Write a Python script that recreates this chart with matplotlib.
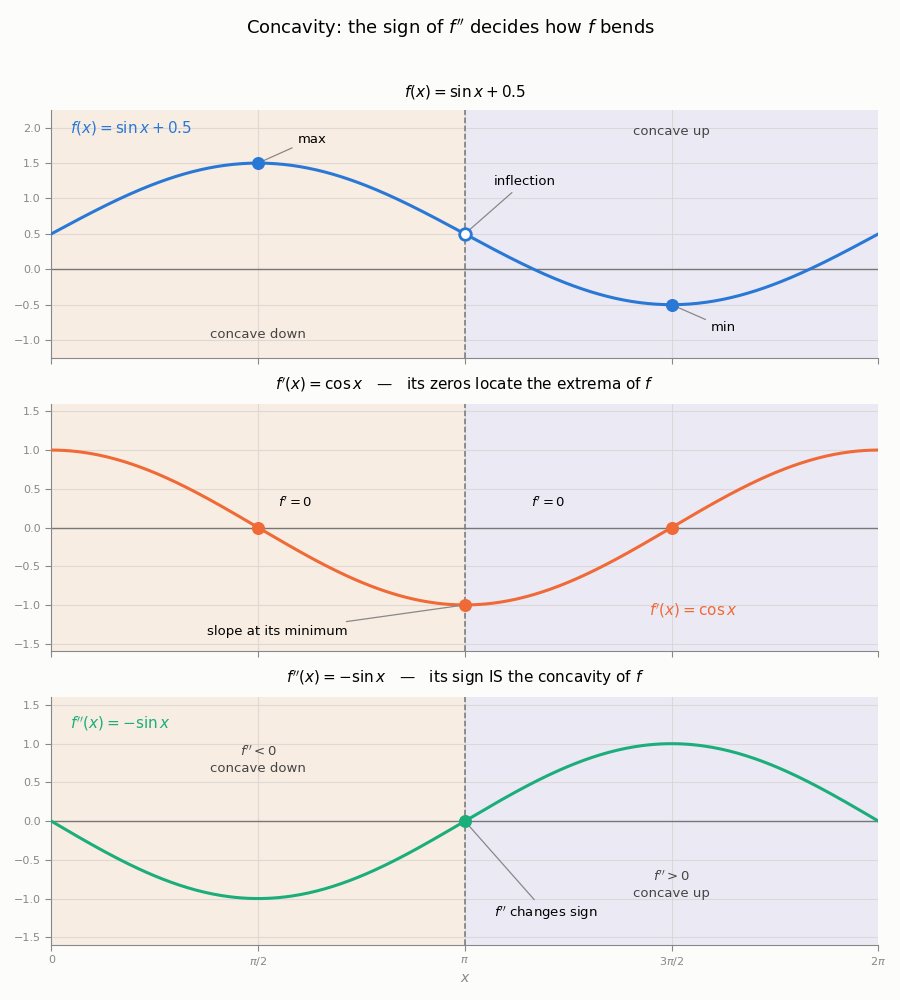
import numpy as np
import matplotlib
matplotlib.use("Agg")
import matplotlib.pyplot as plt

# data
x = np.linspace(0, 2 * np.pi, 400)
f = np.sin(x) + 0.5
f1 = np.cos(x)
f2 = -np.sin(x)

xticks = [0, np.pi / 2, np.pi, 3 * np.pi / 2, 2 * np.pi]
xticklabels = ["0", r"$\pi/2$", r"$\pi$", r"$3\pi/2$", r"$2\pi$"]

f_extrema_x = [np.pi / 2, 3 * np.pi / 2]
f_extrema_y = [1.5, -0.5]
f_infl = (np.pi, 0.5)
f1_zero_x = [np.pi / 2, 3 * np.pi / 2]
f1_zero_y = [0.0, 0.0]
f1_min = (np.pi, -1.0)
f2_zero = (np.pi, 0.0)

BLUE = "#2a78d6"
ORANGE = "#ef6a36"
GREEN = "#1bae7b"
LEFT_BG = "#f8ede2"
RIGHT_BG = "#ebe9f4"
TXT = "#444444"
GREY = "#888888"

fig, axes = plt.subplots(3, 1, figsize=(9, 10), dpi=100, sharex=True)
fig.patch.set_facecolor("#fcfcfa")
fig.subplots_adjust(left=0.057, right=0.976, top=0.89, bottom=0.055, hspace=0.185)
fig.suptitle(r"Concavity: the sign of $f''$ decides how $f$ bends", fontsize=13, y=0.983)

titles = [r"$f(x) = \sin x + 0.5$",
          r"$f'(x) = \cos x$   —   its zeros locate the extrema of $f$",
          r"$f''(x) = -\sin x$   —   its sign IS the concavity of $f$"]
ylims = [(-1.25, 2.25), (-1.6, 1.6), (-1.6, 1.6)]

for ax, t, yl in zip(axes, titles, ylims):
    ax.axvspan(0, np.pi, color=LEFT_BG, zorder=0)
    ax.axvspan(np.pi, 2 * np.pi, color=RIGHT_BG, zorder=0)
    ax.set_facecolor("#fcfcfa")
    ax.grid(True, color="#d9d4d4", linewidth=0.8, alpha=0.8, zorder=1)
    ax.axhline(0, color="#777777", linewidth=1.0, zorder=2)
    ax.axvline(np.pi, color="#777777", linewidth=1.1, linestyle="--", zorder=2)
    ax.set_xlim(0, 2 * np.pi)
    ax.set_ylim(*yl)
    ax.set_title(t, fontsize=11, pad=10)
    for s in ["top", "right"]:
        ax.spines[s].set_visible(False)
    for s in ["left", "bottom"]:
        ax.spines[s].set_color("#888888")
    ax.tick_params(colors="#888888", labelsize=8, length=4)
    ax.set_xticks(xticks)
    ax.set_xticklabels(xticklabels)
    ax.set_yticks(np.arange(np.ceil(yl[0] * 2) / 2, yl[1], 0.5))

# panel 1: f
ax = axes[0]
ax.plot(x, f, color=BLUE, linewidth=2.2, zorder=3)
ax.scatter(f_extrema_x, f_extrema_y, s=70, color=BLUE, zorder=4)
ax.scatter([f_infl[0]], [f_infl[1]], s=70, facecolor="white", edgecolor=BLUE,
           linewidth=2, zorder=5)
ax.text(0.023, 0.927, r"$f(x) = \sin x + 0.5$", transform=ax.transAxes, color=BLUE,
        fontsize=11, va="center")
ax.text(np.pi / 2, -0.92, "concave down", ha="center", va="center", color=TXT, fontsize=9.5)
ax.text(3 * np.pi / 2, 1.95, "concave up", ha="center", va="center", color=TXT, fontsize=9.5)
arrow = dict(arrowstyle="-", color=GREY, linewidth=0.9)
ax.annotate("max", xy=(np.pi / 2, 1.5), xytext=(1.87, 1.84), fontsize=9.5,
            va="center", arrowprops=arrow)
ax.annotate("inflection", xy=f_infl, xytext=(3.36, 1.24), fontsize=9.5,
            va="center", arrowprops=arrow)
ax.annotate("min", xy=(3 * np.pi / 2, -0.5), xytext=(5.01, -0.82), fontsize=9.5,
            va="center", arrowprops=arrow)

# panel 2: f'
ax = axes[1]
ax.plot(x, f1, color=ORANGE, linewidth=2.2, zorder=3)
ax.scatter(f1_zero_x + [f1_min[0]], f1_zero_y + [f1_min[1]], s=70, color=ORANGE, zorder=4)
ax.text(1.855, 0.32, r"$f' = 0$", ha="center", va="center", fontsize=9.5)
ax.text(3.776, 0.32, r"$f' = 0$", ha="center", va="center", fontsize=9.5)
ax.annotate("slope at its minimum", xy=f1_min, xytext=(1.72, -1.34), fontsize=9.5,
            ha="center", va="center", arrowprops=arrow)
ax.text(4.88, -1.07, r"$f'(x) = \cos x$", color=ORANGE, ha="center", va="center", fontsize=11)

# panel 3: f''
ax = axes[2]
ax.plot(x, f2, color=GREEN, linewidth=2.2, zorder=3)
ax.scatter([f2_zero[0]], [f2_zero[1]], s=70, color=GREEN, zorder=4)
ax.text(0.023, 0.895, r"$f''(x) = -\sin x$", transform=ax.transAxes, color=GREEN,
        fontsize=11, va="center")
ax.text(np.pi / 2, 0.79, "$f'' < 0$\nconcave down", ha="center", va="center",
        color=TXT, fontsize=9.5, linespacing=1.3)
ax.text(3 * np.pi / 2, -0.82, "$f'' > 0$\nconcave up", ha="center", va="center",
        color=TXT, fontsize=9.5, linespacing=1.3)
ax.annotate(r"$f''$ changes sign", xy=f2_zero, xytext=(3.76, -1.19), fontsize=9.5,
            ha="center", va="center", arrowprops=arrow)
ax.set_xlabel("$x$", color="#888888", fontsize=10, labelpad=2)

for ax in axes[:2]:
    ax.tick_params(axis="x", labelbottom=False)

fig.savefig("out.png", dpi=100, facecolor=fig.get_facecolor())
